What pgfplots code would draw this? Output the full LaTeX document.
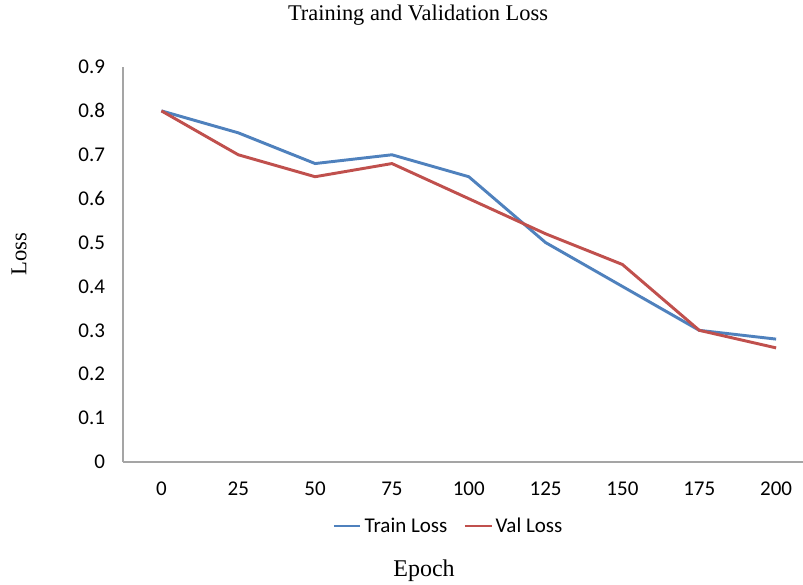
\documentclass[border=0pt]{standalone}
\usepackage{pgfplots}
\pgfplotsset{compat=1.18}
\usepackage{fontspec}
\setmainfont{Liberation Serif}
\newfontfamily\carlito{Carlito}
\definecolor{xblue}{RGB}{79,129,189}
\definecolor{xred}{RGB}{192,80,77}
\definecolor{xgray}{RGB}{165,165,165}
\begin{document}
\begin{tikzpicture}[x=0.75pt,y=0.75pt]
\path[use as bounding box] (0,0) rectangle (803,585);
\begin{axis}[
  at={(92.25pt,92.25pt)}, anchor=south west,
  scale only axis, width=510pt, height=296.25pt,
  xmin=-0.5, xmax=8.35, ymin=0, ymax=0.9,
  axis x line=bottom, axis y line=left,
  axis line style={xgray, line width=0.8pt, -},
  xtick={0,...,8}, xticklabels={0,25,50,75,100,125,150,175,200},
  ytick={0,0.1,...,0.9},
  yticklabels={0,0.1,0.2,0.3,0.4,0.5,0.6,0.7,0.8,0.9},
  major tick length=0pt,
  tick label style={font=\carlito\fontsize{15.75}{18}\selectfont},
  yticklabel style={xshift=-10pt},
  xticklabel style={yshift=-11.5pt},
  clip=false,
  legend columns=2,
  legend style={draw=none, fill=none, at={(0.479,-0.162)}, anchor=center,
    font=\carlito\fontsize{15.75}{18}\selectfont,
    /tikz/every even column/.append style={column sep=10pt}},
  legend image code/.code={\draw[#1] (0pt,0pt) -- (20pt,0pt);},
]
\addplot[xblue, line width=2.2pt] coordinates {(0,0.80) (1,0.75) (2,0.68) (3,0.70) (4,0.65) (5,0.50) (6,0.40) (7,0.30) (8,0.28)};
\addlegendentry{Train Loss}
\addplot[xred, line width=2.2pt] coordinates {(0,0.80) (1,0.70) (2,0.65) (3,0.68) (4,0.60) (5,0.52) (6,0.45) (7,0.30) (8,0.26)};
\addlegendentry{Val Loss}
\end{axis}
\node[font=\fontsize{16.8}{19}\selectfont] at (418,570) {Training and Validation Loss};
\node[font=\fontsize{18}{21}\selectfont] at (424,14) {Epoch};
\node[font=\fontsize{17}{20}\selectfont, rotate=90] at (19,331) {Loss};
\end{tikzpicture}
\end{document}
